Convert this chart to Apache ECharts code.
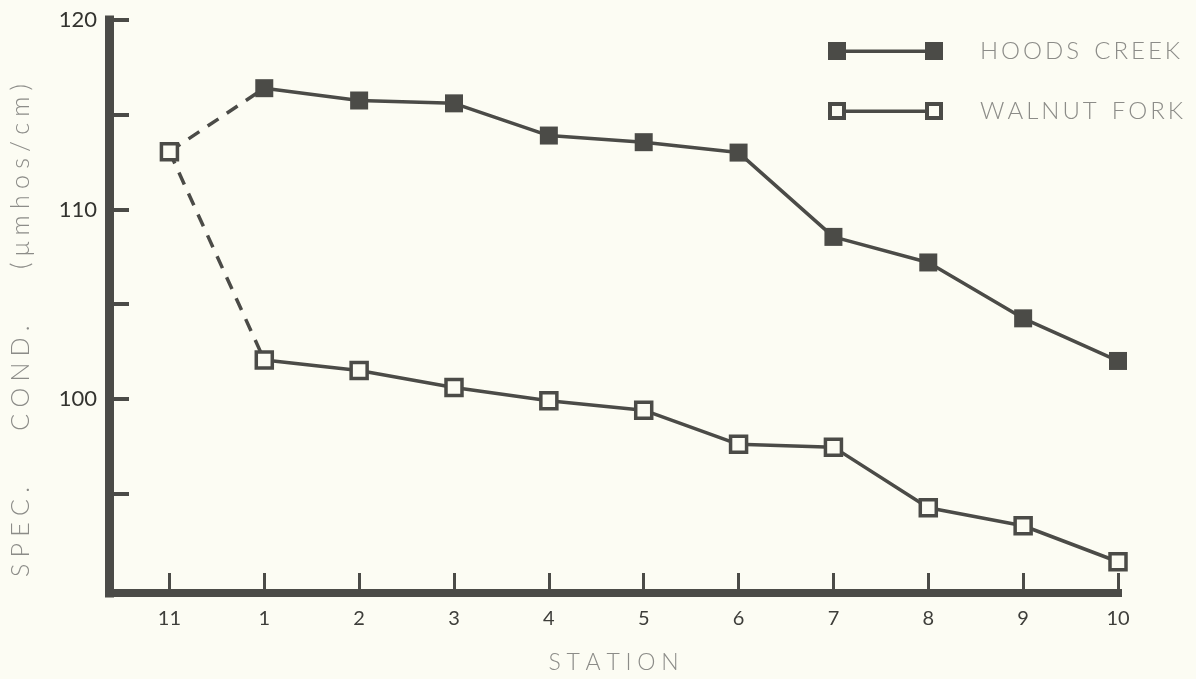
<!DOCTYPE html>
<html>
<head>
<meta charset="utf-8">
<script src="https://cdn.jsdelivr.net/npm/echarts@6/dist/echarts.min.js"></script>
<style>
  html, body { margin: 0; padding: 0; background: #fcfcf3; }
  #chart { width: 1196px; height: 679px; }
</style>
</head>
<body>
<div id="chart"></div>
<script>
// stations in the order plotted (11 is the upstream start point)
const stations = ['11', '1', '2', '3', '4', '5', '6', '7', '8', '9', '10'];
const startValue = 113.05;   // station 11, shared by both streams
const hoodsCreek = [116.4, 115.75, 115.6, 113.9, 113.55, 113.0, 108.55, 107.2, 104.25, 102.0];
const walnutFork = [102.05, 101.5, 100.6, 99.9, 99.4, 97.6, 97.45, 94.25, 93.3, 91.4];
const yTicks = [95, 100, 105, 110, 115, 120];
const yLabels = [100, 110, 120];

const ink = '#4b4b47';
const pale = '#8c8c88';
const bg = '#fcfcf3';

// wide lettering, like the typed labels of the figure
function spaced(s, gap, wordGap) {
  return s.split(' ').map(w => w.split('').join(gap)).join(wordGap);
}

const idx = stations.map((s, i) => i);
const hoodsData = hoodsCreek.map((v, i) => [i + 1, v]);
const walnutData = walnutFork.map((v, i) => [i + 1, v]);

const filledIcon = 'path://M0,0h18v18h-18z M18,7.5h79v3.5h-79z M97,0h18v18h-18z';
const openIcon = 'path://M0,0h18v18h-18z M4,4v10h10v-10z M18,7.5h79v3.5h-79z M97,0h18v18h-18z M101,4v10h10v-10z';

const chart = echarts.init(document.getElementById('chart'));
chart.setOption({
  backgroundColor: bg,
  animation: false,
  textStyle: { fontFamily: 'Lato' },
  legend: {
    orient: 'vertical',
    left: 823,
    top: 34,
    itemWidth: 115,
    itemHeight: 18,
    itemGap: 36,
    formatter: n => spaced(n, '\u2009', '\u2002\u2009'),
    textStyle: { color: pale, fontSize: 24, fontWeight: 300, padding: [0, 0, 0, 32] },
    data: [
      { name: 'HOODS CREEK', icon: filledIcon, itemStyle: { color: ink, borderWidth: 0 } },
      { name: 'WALNUT FORK', icon: openIcon, itemStyle: { color: ink, borderWidth: 0 } }
    ]
  },
  grid: { left: 107, right: 78, top: 20, bottom: 86 },
  xAxis: {
    type: 'value',
    min: -0.637,
    max: 10,
    name: spaced('STATION', '\u2005', ' '),
    nameLocation: 'middle',
    nameGap: 58,
    nameTextStyle: { color: pale, fontSize: 23, fontWeight: 300 },
    axisLine: { lineStyle: { color: ink, width: 8, cap: 'square' } },
    axisTick: { inside: true, length: 20, customValues: idx, lineStyle: { color: ink, width: 3 } },
    axisLabel: {
      customValues: idx,
      formatter: v => stations[Math.round(v)],
      color: '#3e3e3a',
      fontSize: 20,
      margin: 16
    },
    splitLine: { show: false }
  },
  yAxis: {
    type: 'value',
    min: 89.75,
    max: 120,
    name: spaced('SPEC. COND. (\u03bcmhos/cm)', '\u2005', '\u2003\u2003\u2003'),
    nameLocation: 'middle',
    nameGap: 76,
    nameRotate: 90,
    nameTextStyle: { color: pale, fontSize: 25, fontWeight: 300, padding: [0, 48, 0, 0] },
    axisLine: { onZero: false, lineStyle: { color: ink, width: 9, cap: 'square' } },
    axisTick: { inside: true, length: 20, customValues: yTicks, lineStyle: { color: ink, width: 4 } },
    axisLabel: { customValues: yLabels, color: '#33332f', fontSize: 22, margin: 12 },
    splitLine: { show: false }
  },
  series: [
    {
      name: 'link-hoods',
      type: 'line',
      data: [[0, startValue], [1, hoodsCreek[0]]],
      symbol: 'none',
      lineStyle: { color: ink, width: 3.5, type: [13, 10] },
      z: 2
    },
    {
      name: 'link-walnut',
      type: 'line',
      data: [[0, startValue], [1, walnutFork[0]]],
      symbol: 'none',
      lineStyle: { color: ink, width: 3.5, type: [13, 10] },
      z: 2
    },
    {
      name: 'HOODS CREEK',
      type: 'line',
      data: hoodsData,
      symbol: 'rect',
      symbolSize: 18,
      itemStyle: { color: ink },
      lineStyle: { color: ink, width: 3.5 },
      z: 3
    },
    {
      name: 'WALNUT FORK',
      type: 'line',
      data: walnutData,
      symbol: 'rect',
      symbolSize: 16,
      itemStyle: { color: bg, borderColor: ink, borderWidth: 3.5 },
      lineStyle: { color: ink, width: 3.5 },
      z: 3
    },
    {
      name: 'start',
      type: 'scatter',
      data: [[0, startValue]],
      symbol: 'rect',
      symbolSize: 16,
      itemStyle: { color: bg, borderColor: ink, borderWidth: 3.5, opacity: 1 },
      z: 4
    }
  ]
});
</script>
</body>
</html>
